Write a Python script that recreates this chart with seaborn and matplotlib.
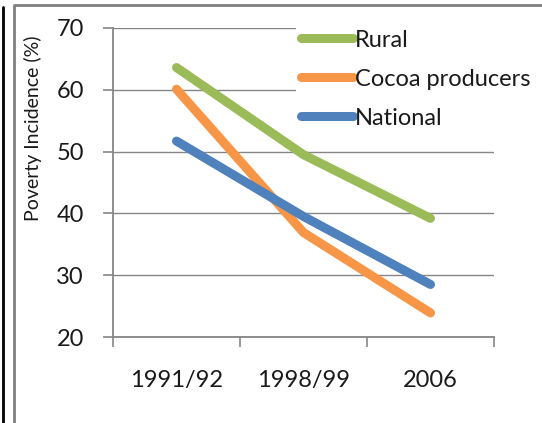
import matplotlib
matplotlib.use("Agg")
import matplotlib.pyplot as plt
from matplotlib.lines import Line2D
import pandas as pd
import seaborn as sns

# Poverty incidence by survey round
periods = ["1991/92", "1998/99", "2006"]
rural = [63.6, 49.5, 39.2]
cocoa = [60.1, 36.9, 23.9]
national = [51.7, 39.5, 28.5]
series_names = ["Rural", "Cocoa producers", "National"]
colors = ["#9BBB59", "#F79646", "#4F81BD"]
y_ticks = [20, 30, 40, 50, 60, 70]

df = pd.DataFrame({
    "period": periods * 3,
    "value": rural + cocoa + national,
    "group": [series_names[0]] * 3 + [series_names[1]] * 3 + [series_names[2]] * 3,
})

sns.set_theme(style="white")
plt.rcParams["font.family"] = ["Lato", "DejaVu Sans"]

W, H = 542, 423
fig = plt.figure(figsize=(W / 100, H / 100), dpi=100)
ax = fig.add_axes([113 / W, 1 - 337 / H, (494 - 113) / W, (337 - 28) / H])

grid_c = "#868686"
for y in y_ticks:
    ax.axhline(y, color=grid_c, lw=1.0, zorder=0)

sns.lineplot(data=df, x="period", y="value", hue="group",
             hue_order=series_names, palette=colors, linewidth=6.5,
             solid_capstyle="round", legend=False, ax=ax, zorder=3)

ax.set_xlim(-0.5, 2.5)
ax.set_ylim(20, 70)
ax.set_yticks(y_ticks)
ax.set_yticklabels([str(v) for v in y_ticks])
ax.set_xticks([-0.5, 0.5, 1.5, 2.5])
ax.set_xticklabels([])
ax.set_xticks([0, 1, 2], minor=True)
ax.set_xticklabels(periods, minor=True)
ax.tick_params(axis="x", which="major", length=7, width=1.2, color=grid_c,
               direction="out", bottom=True)
ax.tick_params(axis="x", which="minor", length=0, pad=24, labelsize=17,
               labelcolor="#1a1a1a")
ax.tick_params(axis="y", length=7, width=1.2, color=grid_c, direction="out",
               left=True, pad=14, labelsize=17, labelcolor="#1a1a1a")
for s in ["top", "right"]:
    ax.spines[s].set_visible(False)
for s in ["left", "bottom"]:
    ax.spines[s].set_color(grid_c)
    ax.spines[s].set_linewidth(1.3)
ax.set_xlabel("")
ax.set_ylabel("")

fig.text(33 / W, 1 - 128 / H, "Poverty Incidence (%)", rotation=90,
         ha="center", va="center", fontsize=14, color="#1a1a1a")

handles = [Line2D([], [], color=c, lw=6.5, solid_capstyle="round")
           for c in colors]
leg = ax.legend(handles, series_names, loc="upper left",
                bbox_to_anchor=(296 / W, 1 - 25 / H),
                bbox_transform=fig.transFigure, fontsize=17,
                handlelength=2.2, handletextpad=0.1, labelspacing=0.76,
                borderpad=0.2, borderaxespad=0, frameon=True, fancybox=False,
                facecolor="white", edgecolor="none", framealpha=1)
leg.set_zorder(5)
for t in leg.get_texts():
    t.set_color("#1a1a1a")

# outer frame lines
fig.add_artist(Line2D([14 / W, 14 / W, 1], [0, 1 - 5 / H, 1 - 5 / H],
                      transform=fig.transFigure, color="#808080", lw=2))
fig.add_artist(Line2D([3 / W, 3 / W], [0, 1 - 7 / H],
                      transform=fig.transFigure, color="black", lw=2))

fig.savefig("out.png", dpi=100)
